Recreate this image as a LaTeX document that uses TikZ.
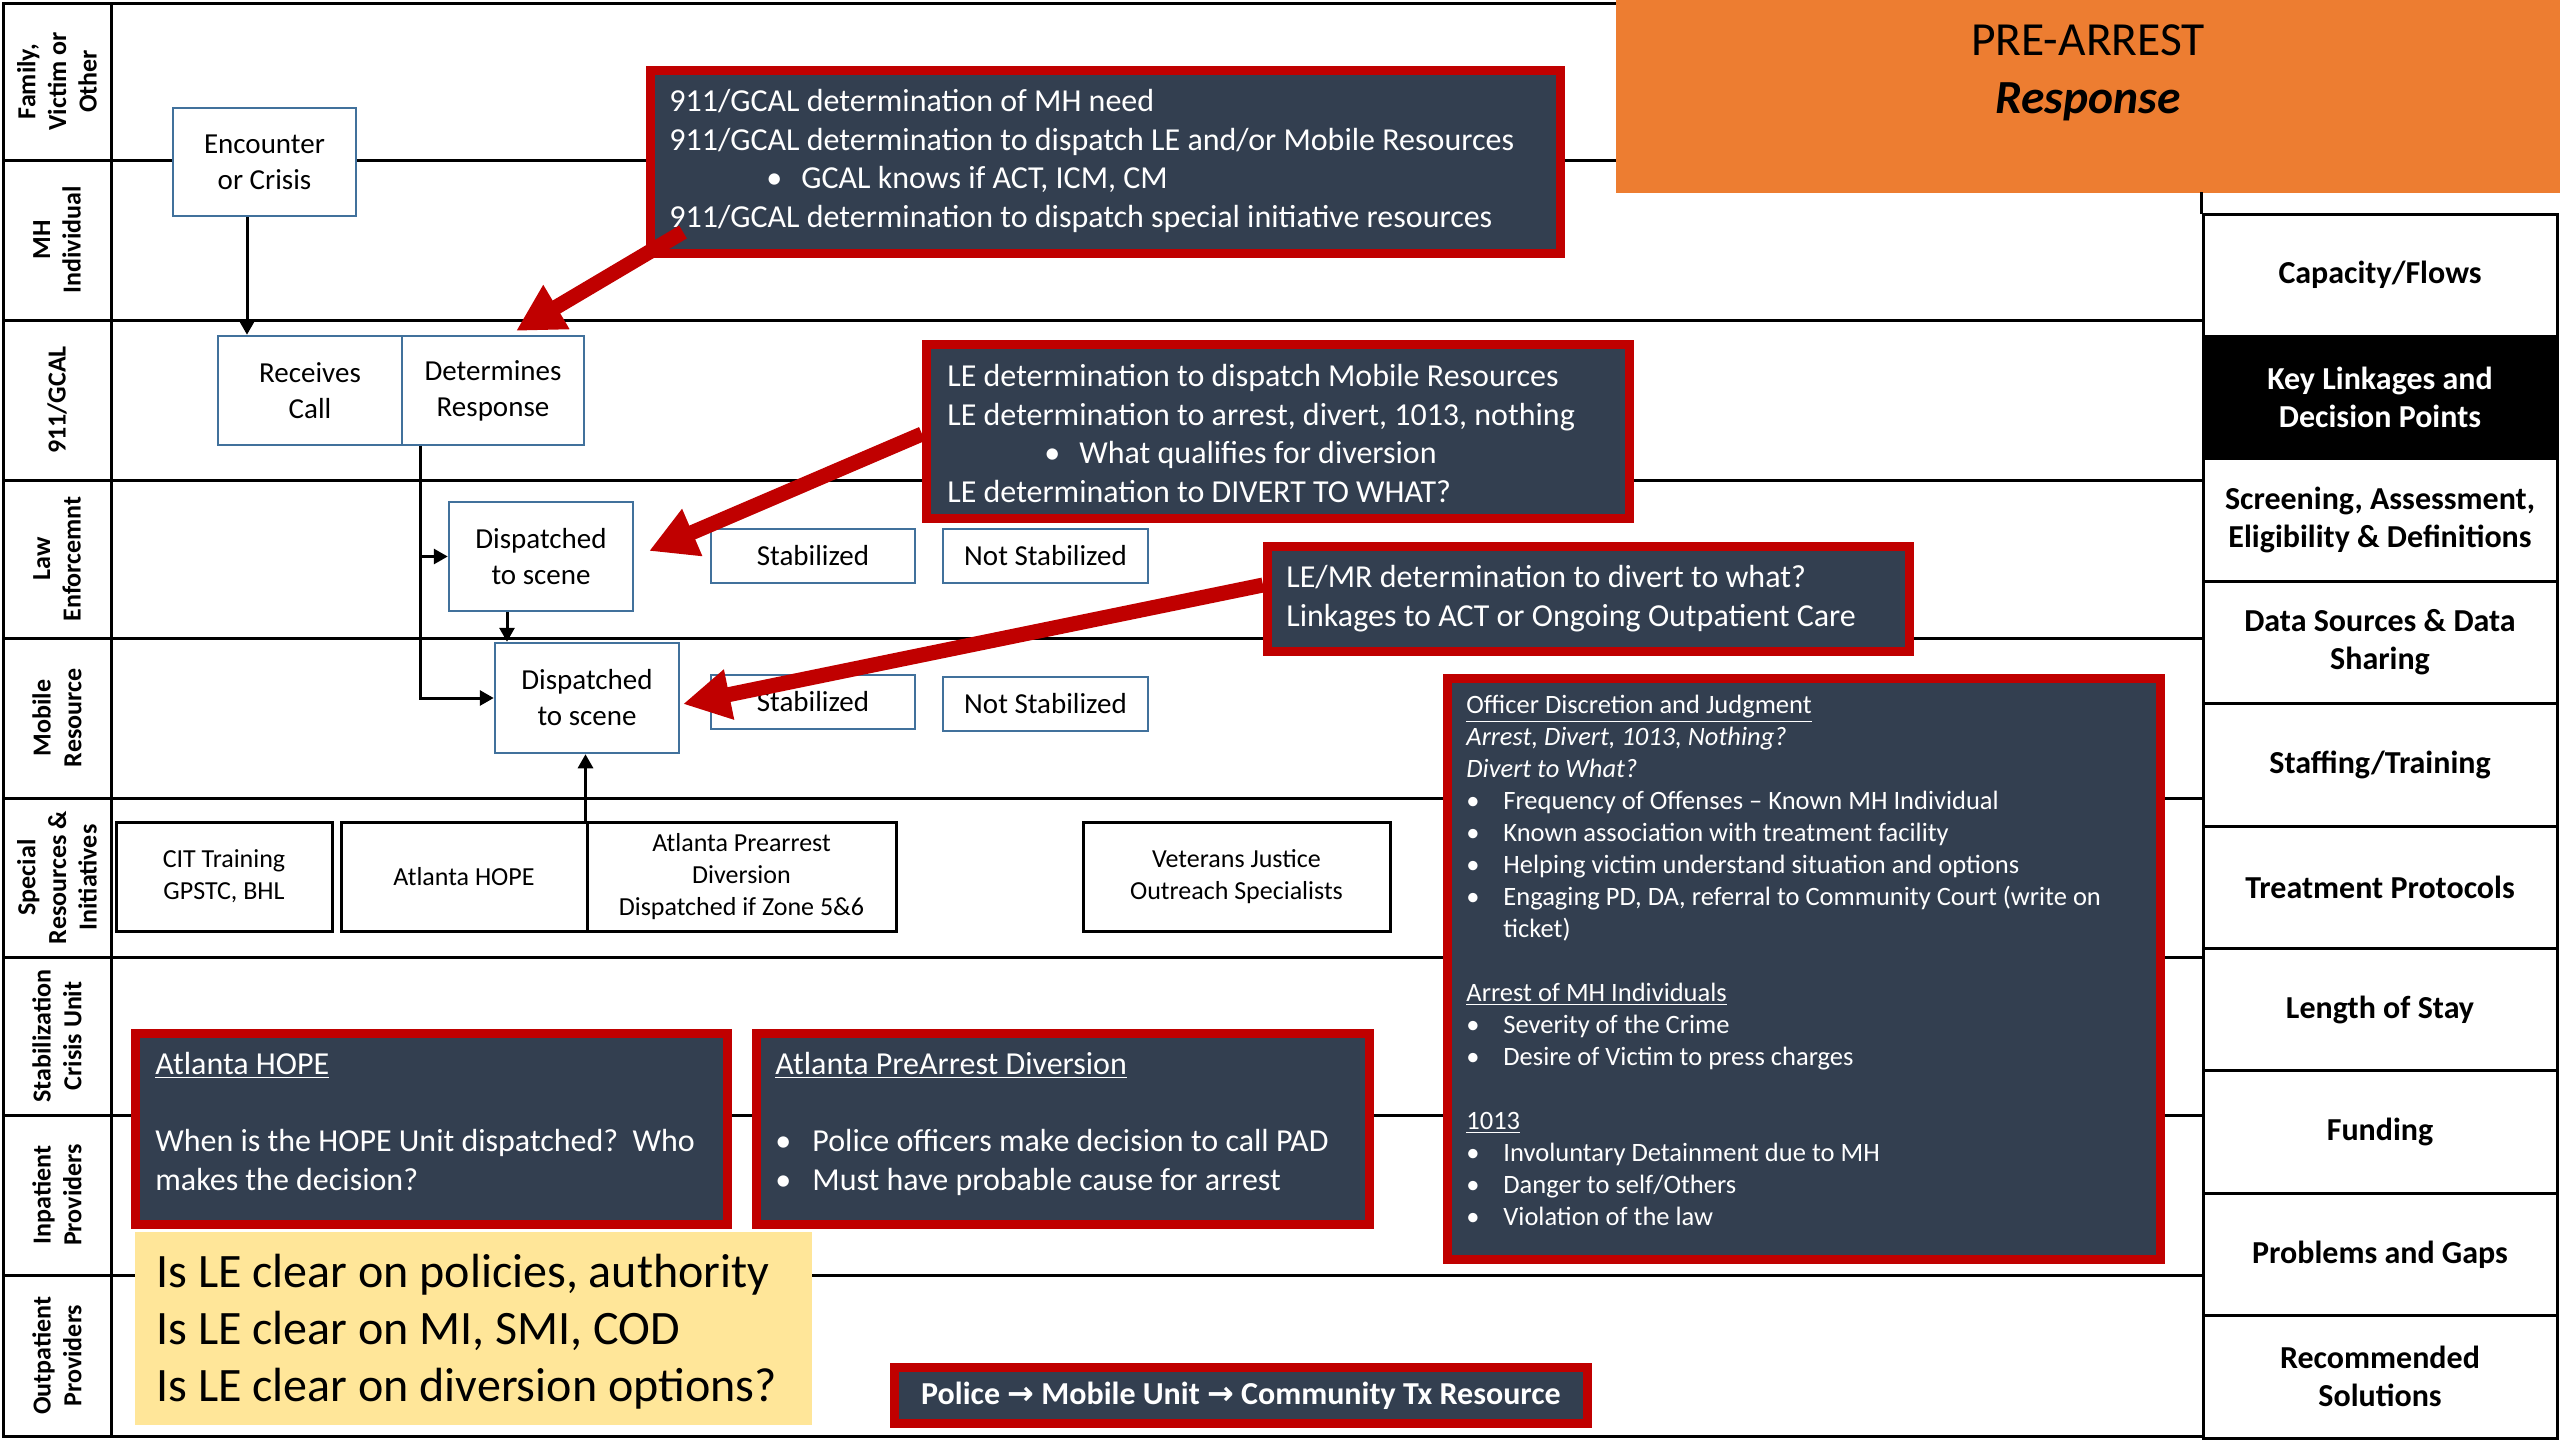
\documentclass[tikz,border=0pt]{standalone}
\usepackage{fontspec}
\setmainfont{Carlito}
\newfontfamily\arrowfont{DejaVu Sans}
\usetikzlibrary{arrows.meta}

\definecolor{boxblue}{RGB}{65,113,156}
\definecolor{navy}{RGB}{51,63,80}
\definecolor{alertred}{RGB}{192,0,0}
\definecolor{headorange}{RGB}{237,125,49}
\definecolor{noteyellow}{RGB}{255,230,153}

% bullet with hanging indent
\newcommand\bul{\makebox[18.5pt][l]{\textbullet}}
\newcommand\subbul{\hspace*{48.5pt}\makebox[17.5pt][l]{\textbullet}}

\tikzset{
  gridline/.style={line width=1.5pt, line cap=rect},
  flowbox/.style={draw=boxblue, line width=1.25pt, fill=white, align=center, inner sep=0pt,
    font=\fontsize{14.5pt}{18pt}\selectfont},
  resbox/.style={draw=black, line width=1.5pt, fill=white, align=center, inner sep=0pt,
    font=\fontsize{13pt}{15.8pt}\selectfont},
  lanelabel/.style={rotate=90, align=center, inner sep=0pt,
    font=\bfseries\fontsize{13pt}{15.3pt}\selectfont},
  callout/.style={draw=alertred, line width=4.5pt, fill=navy, inner sep=0pt},
  calltext/.style={text=white, align=left, inner sep=0pt, anchor=north west,
    font=\fontsize{16pt}{19.3pt}\selectfont},
  smalltext/.style={calltext, font=\fontsize{13.25pt}{16pt}\selectfont},
  conn/.style={line width=1.5pt, -{Triangle[length=7pt,width=7.5pt]}},
  bigarrow/.style={draw=alertred, line width=7.5pt, -{Triangle[length=23.5pt,width=24pt]}},
  sidecell/.style={draw=black, line width=1.5pt, fill=white, minimum width=177pt,
    minimum height=61.2pt, inner sep=0pt, align=center,
    font=\bfseries\fontsize{16pt}{19pt}\selectfont},
}

\begin{document}
\begin{tikzpicture}[x=0.5pt,y=-0.5pt]
\useasboundingbox (0,0) rectangle (2560,1440);
\fill[white] (0,0) rectangle (2560,1440);

% ---- swim-lane grid ----
\draw[gridline] (1616,3) -- (3,3) -- (3,1436) -- (2203,1436);
\draw[gridline] (111,3) -- (111,1436);
\draw[gridline] (3,160) -- (1616,160);
\foreach \yy in {320,480,638,798,957,1115,1275}
  \draw[gridline] (3,\yy) -- (2203,\yy);

% ---- lane titles ----
\node[lanelabel] (l1) at (57,81.5) {Family,\\Victim or\\Other};
\node[lanelabel] (l2) at (57,240) {MH\\Individual};
\node[lanelabel] (l3) at (57,400) {911/GCAL};
\node[lanelabel] (l4) at (57,559) {Law\\Enforcemnt};
\node[lanelabel] (l5) at (57,718) {Mobile\\Resource};
\node[lanelabel] (l6) at (57,877.5) {Special\\Resources \&\\Initiatives};
\node[lanelabel] (l7) at (57,1036) {Stabilization\\Crisis Unit};
\node[lanelabel] (l8) at (57,1195) {Inpatient\\Providers};
\node[lanelabel] (l9) at (57,1355.5) {Outpatient\\Providers};

% ---- process boxes ----
\node[flowbox, minimum width=91.5pt, minimum height=54pt] (enc) at (264.5,162) {Encounter\\or Crisis};
\node[flowbox, minimum width=92pt, minimum height=54.5pt] (rc) at (310,390.5) {Receives\\Call};
\node[flowbox, minimum width=91pt, minimum height=54.5pt] (dr) at (493,390.5) {Determines\\Response};
\node[flowbox, minimum width=92pt, minimum height=54.5pt] (le) at (541,556.5) {Dispatched\\to scene};
\node[flowbox, minimum width=92pt, minimum height=55pt] (mr) at (587,698) {Dispatched\\to scene};
\node[flowbox, minimum width=102pt, minimum height=27pt] (stabA) at (813,556) {Stabilized};
\node[flowbox, minimum width=102.5pt, minimum height=27pt] (nstabA) at (1045.5,556) {Not Stabilized};
\node[flowbox, minimum width=102pt, minimum height=27pt] (stabB) at (813,702) {Stabilized};
\node[flowbox, minimum width=102.5pt, minimum height=27pt] (nstabB) at (1045.5,704) {Not Stabilized};

\node[resbox, minimum width=108pt, minimum height=54.5pt] (cit) at (224,876.5) {CIT Training\\GPSTC, BHL};
\node[resbox, minimum width=123pt, minimum height=54.5pt] (hope) at (464,876.5) {Atlanta HOPE};
\node[resbox, minimum width=154.5pt, minimum height=54.5pt] (pad) at (741.5,876.5) {Atlanta Prearrest\\Diversion\\Dispatched if Zone 5\&6};
\node[resbox, minimum width=153.5pt, minimum height=54.5pt] (vjo) at (1236.5,876.5) {Veterans Justice\\Outreach Specialists};

% ---- flow connectors ----
\coordinate (c1) at (247,0);
\coordinate (c2) at (420,0);
\coordinate (c3) at (507,0);
\draw[conn] (enc.south -| c1) -- (rc.north -| c1);
\draw[conn] (dr.south -| c2) |- (le.west);
\draw[conn] (dr.south -| c2) |- (mr.west);
\draw[conn] (le.south -| c3) -- (mr.north -| c3);
\draw[conn] (pad.north west) -- (pad.north west |- mr.south);

% ---- decision-point callouts ----
\node[callout, minimum width=455pt, minimum height=91.5pt] (boxA) at (1105.5,162) {};
\node[calltext] (txtA) at (669,89) {911/GCAL determination of MH need\\
911/GCAL determination to dispatch LE and/or Mobile Resources\\
\subbul GCAL knows if ACT, ICM, CM\\
911/GCAL determination to dispatch special initiative resources};

\node[callout, minimum width=351.5pt, minimum height=87pt] (boxB) at (1278,431.5) {};
\node[calltext] (txtB) at (947,364) {LE determination to dispatch Mobile Resources\\
LE determination to arrest, divert, 1013, nothing\\
\subbul What qualifies for diversion\\
LE determination to DIVERT TO WHAT?};

\node[callout, minimum width=321pt, minimum height=52.5pt] (boxC) at (1588.5,599) {};
\node[calltext] (txtC) at (1286,565) {LE/MR determination to divert to what?\\
Linkages to ACT or Ongoing Outpatient Care};

\node[callout, minimum width=356.5pt, minimum height=290.5pt] (boxD) at (1804,969) {};
\node[smalltext] (txtD) at (1466,695) {\underline{Officer Discretion and Judgment}\\
\textit{Arrest, Divert, 1013, Nothing?}\\
\textit{Divert to What?}\\
\bul Frequency of Offenses – Known MH Individual\\
\bul Known association with treatment facility\\
\bul Helping victim understand situation and options\\
\bul Engaging PD, DA, referral to Community Court (write on\\
\hspace*{18.5pt}ticket)\\
\mbox{}\\
\underline{Arrest of MH Individuals}\\
\bul Severity of the Crime\\
\bul Desire of Victim to press charges\\
\mbox{}\\
\underline{1013}\\
\bul Involuntary Detainment due to MH\\
\bul Danger to self/Others\\
\bul Violation of the law};

\node[callout, minimum width=296pt, minimum height=95.5pt] (boxE) at (431.5,1129) {};
\node[calltext] (txtE) at (155,1052) {\underline{Atlanta HOPE}\\
\mbox{}\\
When is the HOPE Unit dispatched?\ \ Who\\
makes the decision?};

\node[callout, minimum width=306.5pt, minimum height=95.5pt] (boxF) at (1063,1129) {};
\node[calltext] (txtF) at (775,1052) {\underline{Atlanta PreArrest Diversion}\\
\mbox{}\\
\bul Police officers make decision to call PAD\\
\bul Must have probable cause for arrest};

\node[fill=noteyellow, minimum width=338.5pt, minimum height=96.5pt, inner sep=0pt] (note) at (473.5,1328.5) {};
\node[calltext, text=black, font=\fontsize{24pt}{28.4pt}\selectfont] (notetxt) at (156,1254) {Is LE clear on policies, authority\\
Is LE clear on MI, SMI, COD\\
Is LE clear on diversion options?};

\node[callout, minimum width=346.5pt, minimum height=28pt, text=white,
  font=\bfseries\fontsize{16pt}{19pt}\selectfont] (boxH) at (1241,1395.5)
  {Police {\arrowfont\bfseries →} Mobile Unit {\arrowfont\bfseries →} Community Tx Resource};

% ---- pointer arrows ----
\draw[bigarrow] ([xshift=18.5pt,yshift=13pt]boxA.south west) -- ([xshift=11.5pt,yshift=1.9pt]dr.north);
\draw[bigarrow] ([yshift=-1.25pt]boxB.west) -- ([xshift=7.4pt,yshift=2.75pt]le.east);
\draw[bigarrow] ([yshift=7pt]boxC.west) -- ([xshift=1.4pt,yshift=-3pt]mr.east);

% ---- title block ----
\node[fill=headorange, minimum width=472pt, minimum height=96.5pt, inner sep=0pt] (head) at (2088,96.5) {};
\node[align=center, inner sep=0pt, font=\fontsize{23.75pt}{29pt}\selectfont] (headtxt) at (2088,73)
  {PRE-ARREST\\\textbf{\textit{Response}}};

% ---- side column ----
\node[sidecell] (s1) at (2380,275.2) {Capacity/Flows};
\node[sidecell, fill=black, text=white] (s2) at (2380,397.6) {Key Linkages and\\Decision Points};
\node[sidecell] (s3) at (2380,520) {Screening, Assessment,\\Eligibility \& Definitions};
\node[sidecell] (s4) at (2380,642.4) {Data Sources \& Data\\Sharing};
\node[sidecell] (s5) at (2380,764.8) {Staffing/Training};
\node[sidecell] (s6) at (2380,887.2) {Treatment Protocols};
\node[sidecell] (s7) at (2380,1009.6) {Length of Stay};
\node[sidecell] (s8) at (2380,1132) {Funding};
\node[sidecell] (s9) at (2380,1254.4) {Problems and Gaps};
\node[sidecell] (s10) at (2380,1376.8) {Recommended\\Solutions};
\draw[gridline] (head.south -| s1.north west) -- (s1.north west);
\end{tikzpicture}
\end{document}
